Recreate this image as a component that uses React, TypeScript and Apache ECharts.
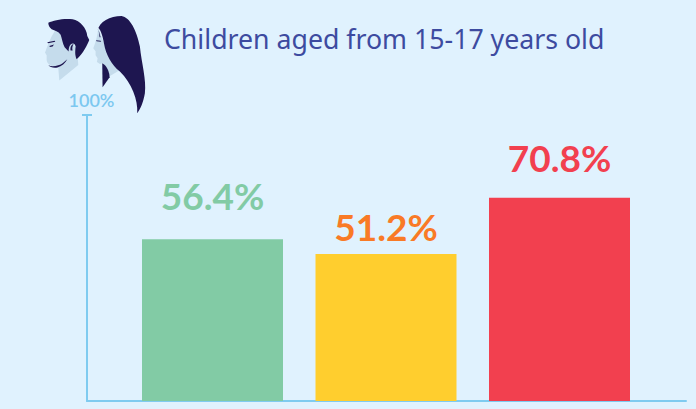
import React, { useEffect, useRef } from "react";
import * as echarts from "echarts";

const titleText = "Children aged from 15-17 years old";
const categories = ["Group A", "Group B", "Group C"];
const values = [56.4, 51.2, 70.8];
const valueLabels = ["56.4%", "51.2%", "70.8%"];
const barColors = ["#82cba5", "#ffce2e", "#f2404f"];
const labelColors = ["#82cba5", "#f97a26", "#f2404f"];
const labelDistances = [25, 9, 22];
const topTickLabel = "100%";

const LIGHT = "#c5dcec";
const DARK = "#1e1650";
const shapes: Record<string, string> = {
  manFace: "M75 92 C60 115 52 140 45 158 L50 166 L50 180 C52 192 60 198 85 204 L88 242 L145 195 L142 150 L100 90 Z",
  manHair: "M55 68 C70 62 100 54 128 58 C150 62 170 85 172 108 L178 120 C172 135 160 160 140 178 C134 165 136 150 137 140 C135 130 128 128 122 134 C117 140 116 148 116 155 L104 142 C98 130 96 115 92 104 C85 94 75 92 65 88 C58 82 55 75 55 68 Z",
  manJaw: "M55 196 C68 202 88 197 98 190 L112 178 C106 190 95 199 82 203 C70 205 60 202 55 196 Z",
  manEye: "M52 127 L74 122 L76 125 L54 130 Z M58 138 L72 134 L68 140 L60 141 Z",
  manEar: "M122 152 C120 142 124 134 131 132 C127 138 126 146 128 152 Z",
  womanFace: "M205 85 C203 105 198 125 190 145 L197 154 L197 166 L203 175 L201 186 L210 192 L218 190 L218 262 L240 228 L268 212 L226 140 Z",
  womanHair: "M203 92 C208 65 240 48 275 48 C300 52 320 90 330 140 C335 190 350 240 345 280 C340 310 330 330 322 340 C325 300 305 250 270 215 C245 195 228 165 222 130 C219 110 213 92 206 84 C205 86 204 88 203 92 Z",
  womanLock: "M217 190 C226 195 234 205 238 222 L239 232 L218 262 Z",
  womanEye: "M198 121 L212 122 L214 125 L200 124 Z M206 90 L212 112 L209 112 Z",
};
Object.entries(shapes).forEach(([name, d]) => {
  echarts.graphic.registerShape(name, (echarts.graphic as any).extendPath(d, {}));
});

const axisColor = "#7fcbf0";

export default function App() {
  const ref = useRef<HTMLDivElement>(null);
  useEffect(() => {
    document.body.style.margin = "0";
    document.body.style.background = "#e0f2fe";
    const chart = echarts.init(ref.current!, null, { renderer: "svg" });
    const art = Object.keys(shapes).map((name) => ({
      type: name,
      x: 30,
      y: 0,
      scaleX: 1 / 3,
      scaleY: 1 / 3,
      style: { fill: name.endsWith("Face") ? LIGHT : DARK },
    }));
    chart.setOption({
      animation: false,
      backgroundColor: "#e0f2fe",
      title: {
        text: titleText,
        left: 159,
        top: 20,
        textStyle: { fontFamily: "Noto Sans", fontSize: 26.7, fontWeight: 400, color: "#3d4ba0" },
      },
      grid: [
        { left: 87, top: 115, width: 599, height: 286 },
        { left: 125.75, top: 114, width: 520.5, height: 287 },
      ],
      xAxis: [
        {
          type: "value",
          gridIndex: 0,
          min: 0,
          max: 100,
          splitLine: { show: false },
          axisTick: { show: false },
          axisLabel: { show: false },
          axisLine: { show: true, onZero: false, lineStyle: { color: axisColor, width: 2 } },
        },
        {
          type: "category",
          gridIndex: 1,
          data: categories,
          axisLine: { show: false },
          axisTick: { show: false },
          axisLabel: { show: false },
        },
      ],
      yAxis: [
        {
          type: "value",
          gridIndex: 0,
          min: 0,
          max: 100,
          interval: 100,
          name: topTickLabel,
          nameLocation: "end",
          nameGap: 6,
          nameTextStyle: {
            fontFamily: "Lato",
            fontSize: 18,
            fontWeight: 600,
            color: "#7cc8f0",
            padding: [0, 0, 0, 9],
          },
          splitLine: { show: false },
          axisTick: { show: false },
          axisLabel: { show: false },
          axisLine: {
            show: true,
            onZero: false,
            symbol: ["none", "rect"],
            symbolSize: [10, 2],
            lineStyle: { color: axisColor, width: 2 },
          },
        },
        {
          type: "value",
          gridIndex: 1,
          min: 0,
          max: 100,
          show: false,
        },
      ],
      series: [
        {
          type: "bar",
          xAxisIndex: 1,
          yAxisIndex: 1,
          barWidth: 141,
          z: 3,
          data: values.map((value, i) => ({
            value,
            itemStyle: { color: barColors[i] },
            label: {
              show: true,
              position: "top",
              distance: labelDistances[i],
              formatter: valueLabels[i],
              fontFamily: "Lato",
              fontSize: 37,
              fontWeight: 700,
              color: labelColors[i],
            },
          })),
        },
      ],
      graphic: art,
    });
    return () => chart.dispose();
  }, []);
  return <div ref={ref} style={{ width: 696, height: 409 }} />;
}
